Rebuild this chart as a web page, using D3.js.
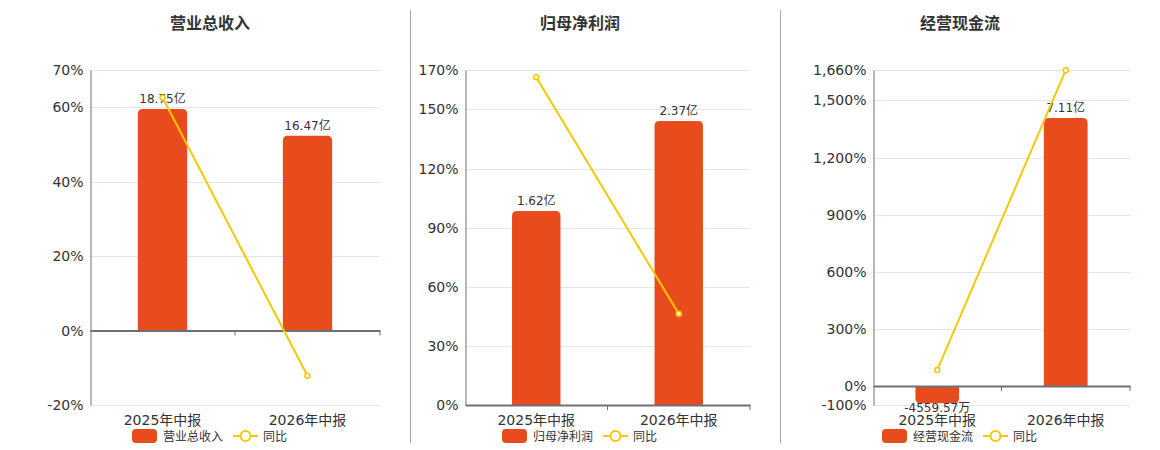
<!DOCTYPE html>
<html>
<head>
<meta charset="utf-8">
<script src="https://cdn.jsdelivr.net/npm/d3@7/dist/d3.min.js"></script>
<style>
  body { margin: 0; background: #fff; }
  svg { font-family: "DejaVu Sans", "Noto Sans CJK SC", sans-serif; }
</style>
</head>
<body>
<script>
// data
const categories = ["2025年中报", "2026年中报"];
const titles = ["营业总收入", "归母净利润", "经营现金流"];

const revenue = [18.75, 16.47];          // 亿
const revenueYoy = [62.6, -12.16];       // %
const netProfit = [1.62, 2.37];
const netProfitYoy = [166.3, 46.3];
const cashFlow = [-0.455957, 7.11];
const cashFlowYoy = [84, 1659];

const revenueTicks = [-20, 0, 20, 40, 60, 70];
const netProfitTicks = [0, 30, 60, 90, 120, 150, 170];
const cashFlowTicks = [-100, 0, 300, 600, 900, 1200, 1500, 1660];

const width = 1160, height = 450;
const barColor = "#e84b1c";
const lineColor = "#f5c800";
const plotTop = 70, plotBottom = 405;

// one panel per metric
const panels = [
    { title: titles[0], bars: revenue, yoy: revenueYoy, ticks: revenueTicks, barMax: 22.04, left: 90, right: 380, center: 210 },
    { title: titles[1], bars: netProfit, yoy: netProfitYoy, ticks: netProfitTicks, barMax: 2.796, left: 465, right: 750, center: 580 },
    { title: titles[2], bars: cashFlow, yoy: cashFlowYoy, ticks: cashFlowTicks, barMax: 8.38, left: 873, right: 1130, center: 960 },
];

// plain hyphen for negatives, like the original
const locale = d3.formatLocale({ decimal: ".", thousands: ",", grouping: [3], currency: ["", ""], minus: "-" });
const fmtPct = d => locale.format(",")(d) + "%";

const svg = d3.select("body").append("svg")
    .attr("width", width)
    .attr("height", height);

// panel dividers
[410, 780].forEach(x => {
    svg.append("line")
        .attr("x1", x + 0.5).attr("x2", x + 0.5)
        .attr("y1", 10).attr("y2", 443)
        .attr("stroke", "#a8a8a8");
});

function fmtAmount(v) {
    if (Math.abs(v) < 1) return (v * 10000).toFixed(2) + "万";
    return v.toFixed(2) + "亿";
}

function barPath(x, w, y0, y1, r) {
    // rounded on the far end from zero
    const h = Math.abs(y1 - y0);
    r = Math.min(r, h, w / 2);
    if (y1 < y0) {
        return `M${x},${y0}V${y1 + r}Q${x},${y1} ${x + r},${y1}H${x + w - r}Q${x + w},${y1} ${x + w},${y1 + r}V${y0}Z`;
    }
    return `M${x},${y0}V${y1 - r}Q${x},${y1} ${x + r},${y1}H${x + w - r}Q${x + w},${y1} ${x + w},${y1 - r}V${y0}Z`;
}

panels.forEach(p => {
    const g = svg.append("g");
    const pctMin = d3.min(p.ticks), pctMax = d3.max(p.ticks);

    const x = d3.scaleBand()
        .domain(categories)
        .range([p.left, p.right])
        .padding(0);

    const y = d3.scaleLinear()
        .domain([pctMin, pctMax])
        .range([plotBottom, plotTop]);

    // bar axis shares the zero with the percent axis
    const yBar = d3.scaleLinear()
        .domain([p.barMax * pctMin / pctMax, p.barMax])
        .range([plotBottom, plotTop]);

    // title
    g.append("text")
        .attr("x", p.center).attr("y", 29)
        .attr("text-anchor", "middle")
        .attr("font-size", 16).attr("font-weight", "bold")
        .attr("fill", "#333")
        .text(p.title);

    // grid
    g.selectAll(".grid")
        .data(p.ticks.filter(t => t !== 0))
        .enter().append("line")
        .attr("x1", p.left).attr("x2", p.right)
        .attr("y1", d => Math.round(y(d)) + 0.5).attr("y2", d => Math.round(y(d)) + 0.5)
        .attr("stroke", "#e0e6f1");

    // y axis
    const yAxis = g.append("g")
        .attr("transform", `translate(${p.left + 0.5},0)`)
        .call(d3.axisLeft(y).tickValues(p.ticks).tickSize(0).tickPadding(7).tickFormat(fmtPct));
    yAxis.select(".domain").attr("stroke", "#6e7079");
    yAxis.selectAll("text").attr("font-size", 14).attr("fill", "#333")
        .attr("font-family", "DejaVu Sans");

    // bars
    const bw = x.bandwidth() * 0.34;
    g.selectAll(".bar")
        .data(p.bars)
        .enter().append("path")
        .attr("d", (d, i) => barPath(x(categories[i]) + (x.bandwidth() - bw) / 2, bw, yBar(0), yBar(d), 5))
        .attr("fill", barColor);

    // zero line with category ticks
    const xAxis = g.append("g")
        .attr("transform", `translate(0,${y(0)})`)
        .call(d3.axisBottom(x).tickSize(0).tickFormat(""));
    xAxis.select(".domain").attr("stroke", "#6e7079").attr("stroke-width", 2);
    [x(categories[1]), p.right].forEach(tx => {
        xAxis.append("line")
            .attr("x1", tx).attr("x2", tx).attr("y1", 0).attr("y2", 5)
            .attr("stroke", "#6e7079");
    });

    // category labels
    g.selectAll(".cat")
        .data(categories)
        .enter().append("text")
        .attr("x", d => x(d) + x.bandwidth() / 2)
        .attr("y", 425)
        .attr("text-anchor", "middle")
        .attr("font-size", 14).attr("fill", "#333")
        .text(d => d);

    // data labels
    g.selectAll(".lbl")
        .data(p.bars)
        .enter().append("text")
        .attr("x", (d, i) => x(categories[i]) + x.bandwidth() / 2)
        .attr("y", d => d >= 0 ? yBar(d) - 6 : yBar(d) + 9)
        .attr("text-anchor", "middle")
        .attr("font-size", 12).attr("fill", "#333")
        .text(d => fmtAmount(d));

    // yoy line
    const line = d3.line()
        .x((d, i) => x(categories[i]) + x.bandwidth() / 2)
        .y(d => y(d));
    g.append("path")
        .datum(p.yoy)
        .attr("d", line)
        .attr("fill", "none")
        .attr("stroke", lineColor)
        .attr("stroke-width", 2);
    g.selectAll(".pt")
        .data(p.yoy)
        .enter().append("circle")
        .attr("cx", (d, i) => x(categories[i]) + x.bandwidth() / 2)
        .attr("cy", d => y(d))
        .attr("r", 2.5)
        .attr("fill", "#fff")
        .attr("stroke", lineColor)
        .attr("stroke-width", 1.5);

    // legend
    const lg = g.append("g").attr("transform", `translate(${p.center - 78},436)`);
    lg.append("rect")
        .attr("x", 0).attr("y", -7).attr("width", 25).attr("height", 14).attr("rx", 4)
        .attr("fill", barColor);
    lg.append("text")
        .attr("x", 31).attr("y", 5)
        .attr("font-size", 12).attr("fill", "#333")
        .text(p.title);
    lg.append("line")
        .attr("x1", 101).attr("x2", 126).attr("y1", 0).attr("y2", 0)
        .attr("stroke", lineColor).attr("stroke-width", 2);
    lg.append("circle")
        .attr("cx", 113.5).attr("cy", 0).attr("r", 5)
        .attr("fill", "#fff").attr("stroke", lineColor).attr("stroke-width", 2);
    lg.append("text")
        .attr("x", 131).attr("y", 5)
        .attr("font-size", 12).attr("fill", "#333")
        .text("同比");
});
</script>
</body>
</html>
